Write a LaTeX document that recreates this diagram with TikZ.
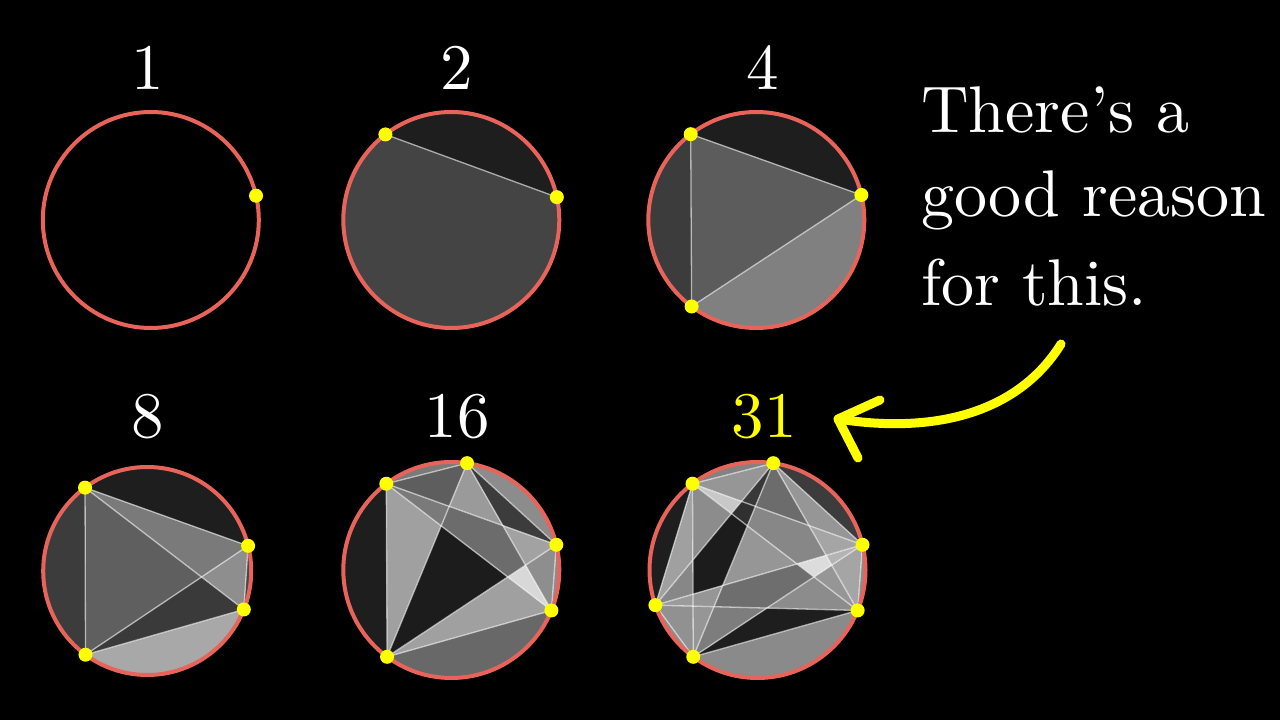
\documentclass[tikz,border=0pt]{standalone}
\usepackage{graphicx}
\usetikzlibrary{calc}
\definecolor{circred}{HTML}{E8645A}
\definecolor{dotyellow}{HTML}{FFFF00}
\tikzset{
  gr/.style={fill={rgb,255:red,#1;green,#1;blue,#1}},
  chord/.style={draw=white, draw opacity=0.6, line width=1.3pt},
  rim/.style={draw=circred, line width=4pt},
  ptdot/.style={fill=dotyellow},
  numlabel/.style={text=white, anchor=base, inner sep=0pt},
  bigtext/.style={text=white, anchor=base west, inner sep=0pt},
  arrowline/.style={draw=dotyellow, line width=9pt, line cap=round, line join=round}
}
\newcommand\mkpt[4]{\coordinate (#1) at ($(#2)+(#3:#4)$);}
\newcommand\numtxt[1]{\scalebox{6.5}{\fontsize{10}{12}\selectfont #1}}
\newcommand\bigtxt[1]{\scalebox{6.6}{\fontsize{10}{12}\selectfont #1}}
\begin{document}
\begin{tikzpicture}[x=1pt,y=1pt]
\fill[black] (0,0) rectangle (1280,720);
\useasboundingbox (0,0) rectangle (1280,720);

% ---------- circle 1 ----------
\coordinate (c1) at (150.8,500);
\mkpt{c1C}{c1}{13}{108}
\draw[rim] (c1) circle[radius=108];
\fill[ptdot] (c1C) circle[radius=7];
\node[numlabel] (n1) at (148,630) {\numtxt{1}};

% ---------- circle 2 ----------
\coordinate (c2) at (451.3,500);
\mkpt{c2A}{c2}{127.6}{108}
\mkpt{c2C}{c2}{12.2}{108}
\fill[gr=68] (c2) circle[radius=108];
\fill[gr=30] (c2A) arc[start angle=127.6,end angle=12.2,radius=108] -- cycle;
\draw[chord] (c2A) -- (c2C);
\draw[rim] (c2) circle[radius=108];
\foreach \p in {A,C} \fill[ptdot] (c2\p) circle[radius=7];
\node[numlabel] (n2) at (457,630) {\numtxt{2}};

% ---------- circle 3 ----------
\coordinate (c3) at (756.3,500);
\mkpt{c3A}{c3}{127.4}{108}
\mkpt{c3C}{c3}{13.4}{108}
\mkpt{c3E}{c3}{233.2}{108}
\fill[gr=60] (c3) circle[radius=108];
\fill[gr=30] (c3A) arc[start angle=127.4,end angle=13.4,radius=108] -- cycle;
\fill[gr=128] (c3C) arc[start angle=13.4,end angle=-126.8,radius=108] -- cycle;
\fill[gr=92] (c3A) -- (c3C) -- (c3E) -- cycle;
\foreach \p/\q in {A/C,C/E,E/A} \draw[chord] (c3\p) -- (c3\q);
\draw[rim] (c3) circle[radius=108];
\foreach \p in {A,C,E} \fill[ptdot] (c3\p) circle[radius=7];
\node[numlabel] (n4) at (763,630) {\numtxt{4}};

% ---------- circle 4 ----------
\coordinate (c4) at (147.2,149);
\mkpt{c4A}{c4}{126.7}{104}
\mkpt{c4C}{c4}{14}{104}
\mkpt{c4D}{c4}{-21.7}{104}
\mkpt{c4E}{c4}{233.6}{104}
\coordinate (c4X) at (intersection of c4A--c4D and c4C--c4E);
\fill[gr=60] (c4) circle[radius=104];
\fill[gr=30] (c4A) arc[start angle=126.7,end angle=14,radius=104] -- cycle;
\fill[gr=70] (c4C) arc[start angle=14,end angle=-21.7,radius=104] -- cycle;
\fill[gr=168] (c4D) arc[start angle=-21.7,end angle=-126.4,radius=104] -- cycle;
\fill[gr=122] (c4A) -- (c4C) -- (c4X) -- cycle;
\fill[gr=142] (c4C) -- (c4D) -- (c4X) -- cycle;
\fill[gr=58] (c4D) -- (c4E) -- (c4X) -- cycle;
\fill[gr=95] (c4E) -- (c4A) -- (c4X) -- cycle;
\foreach \p/\q in {A/C,A/D,A/E,C/D,C/E,D/E} \draw[chord] (c4\p) -- (c4\q);
\draw[rim] (c4) circle[radius=104];
\foreach \p in {A,C,D,E} \fill[ptdot] (c4\p) circle[radius=7];
\node[numlabel] (n8) at (148,282) {\numtxt{8}};

% ---------- circle 5 ----------
\coordinate (c5) at (451.3,150);
\mkpt{c5A}{c5}{127}{108}
\mkpt{c5B}{c5}{81.6}{108}
\mkpt{c5C}{c5}{13.5}{108}
\mkpt{c5D}{c5}{-22}{108}
\mkpt{c5E}{c5}{233.5}{108}
\coordinate (c5q1) at (intersection of c5A--c5C and c5B--c5E);
\coordinate (c5q2) at (intersection of c5A--c5C and c5B--c5D);
\coordinate (c5q3) at (intersection of c5B--c5D and c5C--c5E);
\coordinate (c5q4) at (intersection of c5A--c5D and c5C--c5E);
\coordinate (c5q5) at (intersection of c5A--c5D and c5B--c5E);
\fill[gr=30] (c5) circle[radius=108];
\fill[gr=122] (c5A) arc[start angle=127,end angle=81.6,radius=108] -- cycle;
\fill[gr=140] (c5B) arc[start angle=81.6,end angle=13.5,radius=108] -- cycle;
\fill[gr=140] (c5C) arc[start angle=13.5,end angle=-22,radius=108] -- cycle;
\fill[gr=104] (c5D) arc[start angle=-22,end angle=-126.5,radius=108] -- cycle;
\fill[gr=94] (c5A) -- (c5B) -- (c5q1) -- cycle;
\fill[gr=60] (c5B) -- (c5C) -- (c5q2) -- cycle;
\fill[gr=142] (c5C) -- (c5D) -- (c5q3) -- cycle;
\fill[gr=160] (c5D) -- (c5E) -- (c5q4) -- cycle;
\fill[gr=160] (c5E) -- (c5A) -- (c5q5) -- cycle;
\fill[gr=122] (c5A) -- (c5q1) -- (c5q5) -- cycle;
\fill[gr=154] (c5B) -- (c5q1) -- (c5q2) -- cycle;
\fill[gr=162] (c5C) -- (c5q2) -- (c5q3) -- cycle;
\fill[gr=216] (c5D) -- (c5q3) -- (c5q4) -- cycle;
\fill[gr=28] (c5E) -- (c5q5) -- (c5q4) -- cycle;
\fill[gr=108] (c5q1) -- (c5q2) -- (c5q3) -- (c5q4) -- (c5q5) -- cycle;
\foreach \p/\q in {A/B,A/C,A/D,A/E,B/C,B/D,B/E,C/D,C/E,D/E} \draw[chord] (c5\p) -- (c5\q);
\draw[rim] (c5) circle[radius=108];
\foreach \p in {A,B,C,D,E} \fill[ptdot] (c5\p) circle[radius=7];
\node[numlabel] (n16) at (457,282) {\numtxt{16}};

% ---------- circle 6 ----------
\coordinate (c6) at (757.5,150);
\mkpt{c6A}{c6}{127}{108}
\mkpt{c6B}{c6}{81.6}{108}
\mkpt{c6C}{c6}{13.5}{108}
\mkpt{c6D}{c6}{-22}{108}
\mkpt{c6E}{c6}{233.5}{108}
\mkpt{c6F}{c6}{199}{108}
\coordinate (c6p1) at (intersection of c6A--c6C and c6B--c6F);
\coordinate (c6p2) at (intersection of c6A--c6C and c6B--c6E);
\coordinate (c6p3) at (intersection of c6A--c6C and c6B--c6D);
\coordinate (c6p4) at (intersection of c6A--c6D and c6B--c6F);
\coordinate (c6p5) at (intersection of c6A--c6D and c6B--c6E);
\coordinate (c6p6) at (intersection of c6A--c6D and c6C--c6F);
\coordinate (c6p7) at (intersection of c6A--c6D and c6C--c6E);
\coordinate (c6p8) at (intersection of c6A--c6E and c6B--c6F);
\coordinate (c6p9) at (intersection of c6A--c6E and c6C--c6F);
\coordinate (c6p10) at (intersection of c6A--c6E and c6D--c6F);
\coordinate (c6p11) at (intersection of c6B--c6D and c6C--c6F);
\coordinate (c6p12) at (intersection of c6B--c6D and c6C--c6E);
\coordinate (c6p13) at (intersection of c6B--c6E and c6C--c6F);
\coordinate (c6p14) at (intersection of c6B--c6E and c6D--c6F);
\coordinate (c6p15) at (intersection of c6C--c6E and c6D--c6F);
\fill[gr=30] (c6) circle[radius=108];
\fill[gr=130] (c6A) arc[start angle=127,end angle=81.6,radius=108] -- cycle;
\fill[gr=60] (c6B) arc[start angle=81.6,end angle=13.5,radius=108] -- cycle;
\fill[gr=140] (c6C) arc[start angle=13.5,end angle=-22,radius=108] -- cycle;
\fill[gr=138] (c6D) arc[start angle=-22,end angle=-126.5,radius=108] -- cycle;
\fill[gr=140] (c6E) arc[start angle=-126.5,end angle=-161,radius=108] -- cycle;
\fill[gr=150] (c6A) -- (c6B) -- (c6p1) -- cycle;
\fill[gr=200] (c6A) -- (c6p1) -- (c6p4) -- cycle;
\fill[gr=140] (c6A) -- (c6p4) -- (c6p8) -- cycle;
\fill[gr=160] (c6A) -- (c6p8) -- (c6F) -- cycle;
\fill[gr=56] (c6B) -- (c6p1) -- (c6p2) -- cycle;
\fill[gr=108] (c6B) -- (c6p2) -- (c6p3) -- cycle;
\fill[gr=150] (c6B) -- (c6p3) -- (c6C) -- cycle;
\fill[gr=165] (c6C) -- (c6p3) -- (c6p11) -- cycle;
\fill[gr=180] (c6C) -- (c6p11) -- (c6p12) -- cycle;
\fill[gr=165] (c6C) -- (c6p12) -- (c6D) -- cycle;
\fill[gr=150] (c6D) -- (c6p12) -- (c6p7) -- cycle;
\fill[gr=140] (c6D) -- (c6p7) -- (c6p15) -- cycle;
\fill[gr=30] (c6D) -- (c6p15) -- (c6E) -- cycle;
\fill[gr=125] (c6E) -- (c6p15) -- (c6p14) -- cycle;
\fill[gr=150] (c6E) -- (c6p14) -- (c6p10) -- cycle;
\fill[gr=145] (c6E) -- (c6p10) -- (c6F) -- cycle;
\fill[gr=155] (c6F) -- (c6p10) -- (c6p9) -- cycle;
\fill[gr=135] (c6F) -- (c6p9) -- (c6p8) -- cycle;
\fill[gr=48] (c6p1) -- (c6p2) -- (c6p5) -- (c6p4) -- cycle;
\fill[gr=135] (c6p2) -- (c6p3) -- (c6p11) -- (c6p6) -- (c6p5) -- cycle;
\fill[gr=220] (c6p11) -- (c6p12) -- (c6p7) -- (c6p6) -- cycle;
\fill[gr=110] (c6p6) -- (c6p7) -- (c6p15) -- (c6p14) -- (c6p13) -- cycle;
\fill[gr=150] (c6p5) -- (c6p6) -- (c6p13) -- cycle;
\fill[gr=28] (c6p4) -- (c6p5) -- (c6p13) -- (c6p9) -- (c6p8) -- cycle;
\fill[gr=150] (c6p13) -- (c6p14) -- (c6p10) -- (c6p9) -- cycle;
\foreach \p/\q in {A/B,A/C,A/D,A/E,A/F,B/C,B/D,B/E,B/F,C/D,C/E,C/F,D/E,D/F,E/F} \draw[chord] (c6\p) -- (c6\q);
\draw[rim] (c6) circle[radius=108];
\foreach \p in {A,B,C,D,E,F} \fill[ptdot] (c6\p) circle[radius=7];
\node[numlabel, text=dotyellow] (n31) at (764,282) {\numtxt{31}};

% ---------- text ----------
\node[bigtext] (t1) at (921,587) {\bigtxt{There's a}};
\node[bigtext] (t2) at (921,503) {\bigtxt{good reason}};
\node[bigtext] (t3) at (921,414) {\bigtxt{for this.}};

% ---------- arrow ----------
\coordinate (arrS) at (1061,376);
\coordinate (arrT) at (838,301);
\coordinate (arrH1) at (880,320);
\coordinate (arrH2) at (858,262);
\draw[arrowline] (arrS) .. controls (1020,310) and (940,285) .. (arrT);
\draw[arrowline] (arrH1) -- (arrT) -- (arrH2);
\end{tikzpicture}
\end{document}
